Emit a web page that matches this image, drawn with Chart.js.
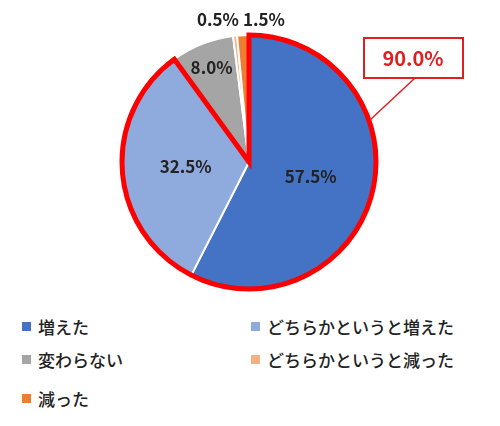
<!DOCTYPE html>
<html><head><meta charset="utf-8">
<script src="https://cdn.jsdelivr.net/npm/chart.js@4"></script>
<style>
body{margin:0;background:#fff;font-family:"Noto Sans CJK JP",sans-serif;}
#wrap{position:relative;width:500px;height:300px;}
.lg{position:absolute;font-size:17px;font-weight:500;color:#222;display:flex;align-items:center;}
.lg i{display:inline-block;width:9px;height:9px;margin-right:7px;}
</style></head>
<body>
<div id="wrap"><canvas id="c" width="500" height="300"></canvas></div>
<div id="legend"></div>
<script>
const labels = ['増えた', 'どちらかというと増えた', '変わらない', 'どちらかというと減った', '減った'];
const values = [57.5, 32.5, 8.0, 0.5, 1.5];
const colors = ['#4472C4', '#8FAADC', '#A5A5A5', '#F4B183', '#ED7D31'];
const highlightTotal = '90.0%';

// legend positions (two columns)
const legendPos = [[22, 326], [251, 326], [22, 359], [251, 359], [22, 398]];
document.getElementById('legend').innerHTML = labels.map((l, i) =>
    `<div class="lg" style="left:${legendPos[i][0]}px;top:${legendPos[i][1] - 12}px"><i style="background:${colors[i]}"></i>${l}</div>`).join('');

const labelPlugin = {
    id: 'labels',
    afterDraw(chart) {
        const ctx = chart.ctx;
        const arcs = chart.getDatasetMeta(0).data;
        const a0 = arcs[0];
        const cx = a0.x, cy = a0.y, r = a0.outerRadius;
        // red outline around first two slices
        const start = arcs[0].startAngle, end = arcs[1].endAngle;
        ctx.save();
        ctx.strokeStyle = '#FF0000';
        ctx.lineWidth = 5;
        ctx.lineJoin = 'miter';
        ctx.beginPath();
        ctx.moveTo(cx, cy);
        ctx.arc(cx, cy, r, start, end);
        ctx.closePath();
        ctx.stroke();

        // callout box
        ctx.lineWidth = 1.5;
        ctx.strokeStyle = '#E02020';
        ctx.beginPath();
        ctx.moveTo(415, 78);
        ctx.lineTo(370, 120);
        ctx.stroke();
        ctx.fillStyle = '#fff';
        ctx.fillRect(364, 38, 99, 40);
        ctx.lineWidth = 2;
        ctx.strokeRect(364, 38, 99, 40);
        ctx.fillStyle = '#E02020';
        ctx.font = 'bold 20px "Noto Sans CJK JP", sans-serif';
        ctx.textAlign = 'center';
        ctx.textBaseline = 'middle';
        ctx.fillText(highlightTotal, 413, 58);

        // slice labels
        ctx.fillStyle = '#222';
        ctx.font = 'bold 17px "Noto Sans CJK JP", sans-serif';
        const fixed = [null, null, null, [218, 20], [264, 20]];
        arcs.forEach((arc, i) => {
            const txt = values[i].toFixed(1) + '%';
            let x, y;
            if (fixed[i]) { [x, y] = fixed[i]; }
            else {
                const mid = (arc.startAngle + arc.endAngle) / 2;
                const f = i === 2 ? 0.8 : 0.5;
                x = cx + Math.cos(mid) * r * f;
                y = cy + Math.sin(mid) * r * f;
            }
            ctx.fillText(txt, x, y);
        });
        ctx.restore();
    }
};

new Chart(document.getElementById('c'), {
    type: 'pie',
    data: { labels: labels, datasets: [{ data: values, backgroundColor: colors, borderColor: '#fff', borderWidth: 2 }] },
    options: {
        responsive: false,
        animation: false,
        layout: { padding: { top: 34, bottom: 10, left: 121, right: 123 } },
        plugins: { legend: { display: false }, tooltip: { enabled: false } }
    },
    plugins: [labelPlugin]
});
</script>
</body></html>
